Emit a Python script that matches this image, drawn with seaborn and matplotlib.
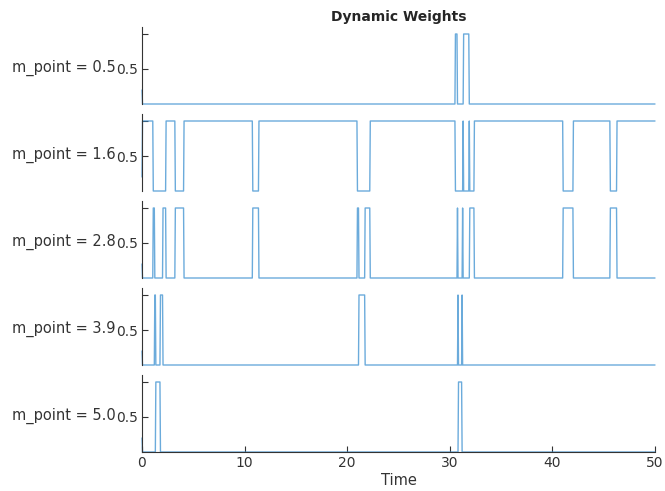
import numpy as np
import pandas as pd
import matplotlib
matplotlib.use("Agg")
import matplotlib.pyplot as plt
import seaborn as sns

# Membership centres, one panel each
m_points = [0.5, 1.6, 2.8, 3.9, 5.0]

# Switching schedule: from each start time on, the weight sits fully on one centre
switch_times = [0.05, 1.10, 1.25, 1.35, 1.80, 2.05, 2.35, 3.25, 4.10, 10.80,
                11.40, 21.00, 21.15, 21.75, 22.25, 30.55, 30.75, 30.80, 30.85, 31.20,
                31.25, 31.30, 31.35, 31.90, 31.95, 32.40, 41.05, 42.05, 45.65, 46.30]
active_index = [1, 2, 3, 4, 3, 2, 1, 2, 1, 2,
                1, 2, 3, 2, 1, 0, 2, 3, 4, 3,
                2, 1, 0, 1, 2, 1, 2, 1, 2, 1]
initial_weight = 0.2
t_end = 50.0
dt = 0.05

# Sample the schedule on a regular time grid
time = np.round(np.arange(0.0, t_end + dt / 2, dt), 4)
weights = np.zeros((len(m_points), len(time)))
weights[:, 0] = initial_weight
for k, (start, idx) in enumerate(zip(switch_times, active_index)):
    stop = switch_times[k + 1] if k + 1 < len(switch_times) else t_end + dt
    mask = (time >= start - 1e-9) & (time < stop - 1e-9)
    weights[idx, mask] = 1.0

frames = [pd.DataFrame({"Time": time, "weight": weights[i], "m_point": m})
          for i, m in enumerate(m_points)]
data = pd.concat(frames, ignore_index=True)

sns.set_style("white")
plt.rcParams["font.family"] = ["DejaVu Sans"]

W, H = 665, 491
fig = plt.figure(figsize=(W / 100, H / 100), dpi=100)

line_color = "#3a8fd0"
spine_color = "#333333"
left_px, right_px = 142, 655
bottoms_px = [104, 191, 278, 365, 452]
height_px = 77

axes = []
for i, m in enumerate(m_points):
    ax = fig.add_axes([left_px / W, 1 - bottoms_px[i] / H,
                       (right_px - left_px) / W, height_px / H])
    sub = data[data["m_point"] == m]
    sns.lineplot(data=sub, x="Time", y="weight", ax=ax, color=line_color,
                 linewidth=1.0, alpha=0.75, estimator=None, clip_on=False)
    ax.set_xlim(0, t_end)
    ax.set_ylim(0, 1.1)
    ax.set_yticks([0.5, 1.0])
    ax.set_yticklabels(["0.5", ""], fontsize=10, color="#333333")
    ax.tick_params(axis="y", left=True, direction="in", length=4, width=0.8,
                   color=spine_color, pad=3)
    for side in ["top", "right"]:
        ax.spines[side].set_visible(False)
    ax.spines["left"].set_color(spine_color)
    ax.spines["left"].set_linewidth(0.8)
    ax.set_ylabel(f"m_point = {m:.1f}", rotation=0, ha="right", va="center",
                  fontsize=10.5, color="#333333")
    ax.yaxis.set_label_coords(-0.052, 0.47)
    if i < len(m_points) - 1:
        ax.spines["bottom"].set_visible(False)
        ax.set_xticks([])
        ax.set_xlabel("")
    else:
        ax.spines["bottom"].set_color(spine_color)
        ax.spines["bottom"].set_linewidth(0.8)
        ax.set_xticks([0, 10, 20, 30, 40, 50])
        ax.set_xticklabels(["0", "10", "20", "30", "40", "50"], fontsize=10,
                           color="#333333")
        ax.tick_params(axis="x", bottom=True, direction="in", length=4,
                       width=0.8, color=spine_color, pad=3)
        ax.set_xlabel("Time", fontsize=10.5, color="#333333", labelpad=2)
    axes.append(ax)

axes[0].set_title("Dynamic Weights", fontsize=10, fontweight="bold", pad=4)

fig.savefig("out.png", dpi=100)
